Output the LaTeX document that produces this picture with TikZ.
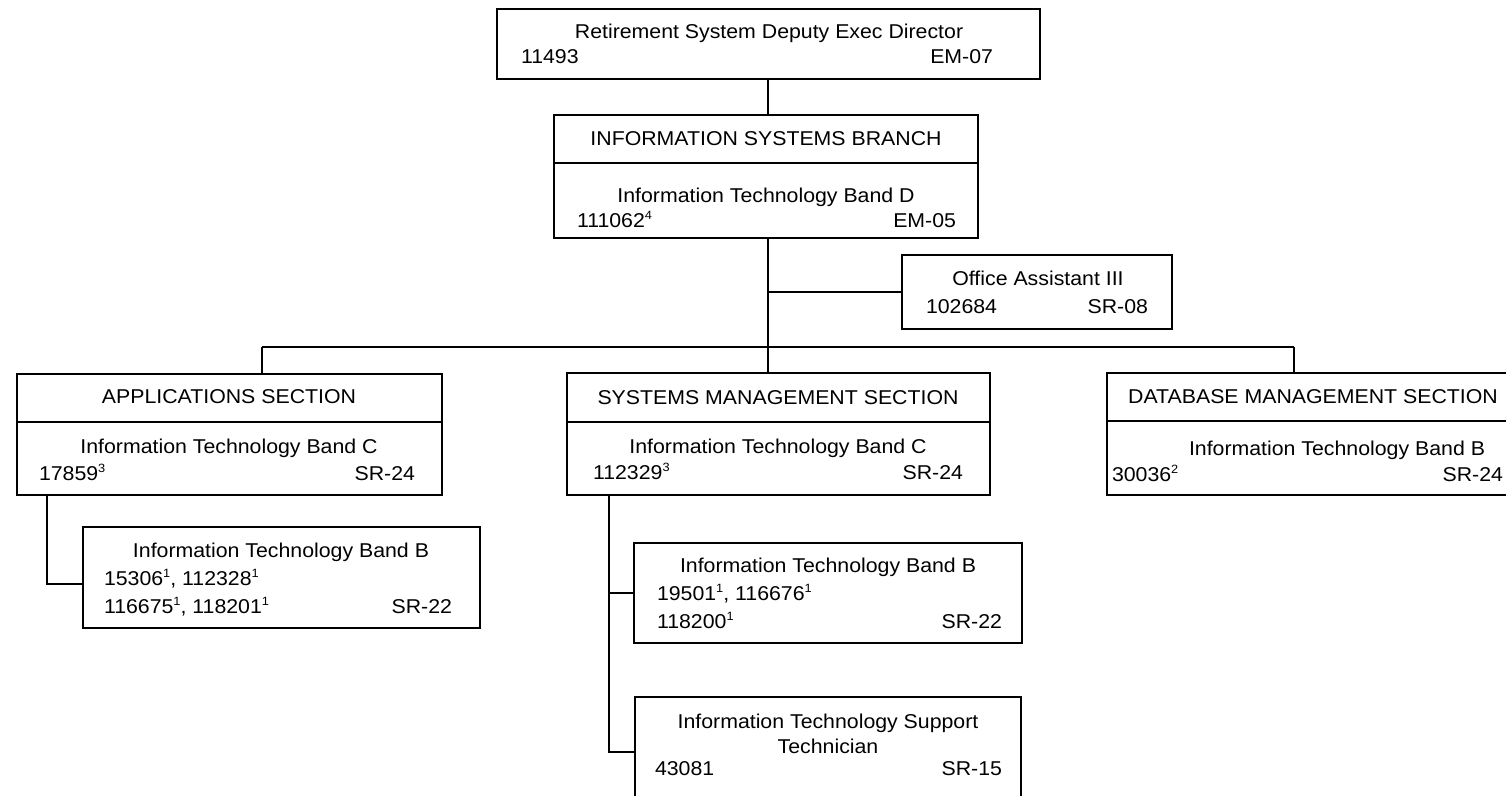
\documentclass[tikz,border=0pt]{standalone}
\usepackage{fontspec}
\setmainfont{Liberation Sans}[FakeStretch=1.065]
\usetikzlibrary{calc}
\newcommand\supn[1]{\raisebox{0.72ex}{\fontsize{12}{12}\selectfont #1}}
\begin{document}
\begin{tikzpicture}[x=1pt,y=-1pt,
  box/.style={draw=black, line width=1.8pt, rectangle, inner sep=0pt, outer sep=0pt},
  txt/.style={inner sep=0pt, outer sep=0pt, font=\fontsize{20}{25}\selectfont, text=black},
  conn/.style={draw=black, line width=1.8pt, line join=miter}]
\useasboundingbox (0,0) rectangle (1506,795);
\fill[white] (0,0) rectangle (1506,795);

% boxes
\node[box, minimum width=543pt, minimum height=70pt] (top) at (768.5,44) {};
\node[box, minimum width=424pt, minimum height=123pt] (branch) at (766,176.5) {};
\node[box, minimum width=270pt, minimum height=74pt] (office) at (1037,292) {};
\node[box, minimum width=425pt, minimum height=121pt] (app) at (229.5,434.5) {};
\node[box, minimum width=423pt, minimum height=122pt] (sys) at (778.5,434) {};
\node[box, minimum width=412pt, minimum height=122pt] (db) at (1313,434) {};
\node[box, minimum width=397pt, minimum height=101pt] (asub) at (281.5,577.5) {};
\node[box, minimum width=388pt, minimum height=100pt] (ssub1) at (828,593) {};
\node[box, minimum width=386pt, minimum height=110pt] (ssub2) at (828,752) {};

% dividers
\draw[conn] (branch.west |- 0,163) -- (branch.east |- 0,163);
\draw[conn] (app.west |- 0,422) -- (app.east |- 0,422);
\draw[conn] (sys.west |- 0,422) -- (sys.east |- 0,422);
\draw[conn] (db.west |- 0,421) -- (db.east |- 0,421);

% texts
\node[txt, anchor=base] (topT) at (769,38) {Retirement System Deputy Exec Director};
\node[txt, anchor=base west] (topL) at (521,63) {11493};
\node[txt, anchor=base east] (topR) at (993,63) {EM-07};

\node[txt, anchor=base] (brT) at (766,145) {INFORMATION SYSTEMS BRANCH};
\node[txt, anchor=base] (brS) at (766,202) {Information Technology Band D};
\node[txt, anchor=base west] (brL) at (577,227) {111062\supn{4}};
\node[txt, anchor=base east] (brR) at (956,227) {EM-05};

\node[txt, anchor=base] (ofT) at (1038,285) {Office Assistant III};
\node[txt, anchor=base west] (ofL) at (926,313) {102684};
\node[txt, anchor=base east] (ofR) at (1148,313) {SR-08};

\node[txt, anchor=base] (apT) at (229,403) {APPLICATIONS SECTION};
\node[txt, anchor=base] (apS) at (229,453) {Information Technology Band C};
\node[txt, anchor=base west] (apL) at (39,480) {17859\supn{3}};
\node[txt, anchor=base east] (apR) at (415,480) {SR-24};

\node[txt, anchor=base] (syT) at (778,404) {SYSTEMS MANAGEMENT SECTION};
\node[txt, anchor=base] (syS) at (778,453) {Information Technology Band C};
\node[txt, anchor=base west] (syL) at (593,479) {112329\supn{3}};
\node[txt, anchor=base east] (syR) at (963,479) {SR-24};

\node[txt, anchor=base] (dbT) at (1313,403) {DATABASE MANAGEMENT SECTION};
\node[txt, anchor=base] (dbS) at (1337,455) {Information Technology Band B};
\node[txt, anchor=base west] (dbL) at (1112,481) {30036\supn{2}};
\node[txt, anchor=base east] (dbR) at (1503,481) {SR-24};

\node[txt, anchor=base] (asT) at (281,557) {Information Technology Band B};
\node[txt, anchor=base west] (asL1) at (104,585) {15306\supn{1}, 112328\supn{1}};
\node[txt, anchor=base west] (asL2) at (104,613) {116675\supn{1}, 118201\supn{1}};
\node[txt, anchor=base east] (asR) at (452,613) {SR-22};

\node[txt, anchor=base] (s1T) at (828,572) {Information Technology Band B};
\node[txt, anchor=base west] (s1L1) at (657,600) {19501\supn{1}, 116676\supn{1}};
\node[txt, anchor=base west] (s1L2) at (657,628) {118200\supn{1}};
\node[txt, anchor=base east] (s1R) at (1002,628) {SR-22};

\node[txt, anchor=base] (s2T) at (828,728) {Information Technology Support};
\node[txt, anchor=base] (s2T2) at (828,753) {Technician};
\node[txt, anchor=base west] (s2L) at (655,775) {43081};
\node[txt, anchor=base east] (s2R) at (1002,775) {SR-15};

% junction coordinates
\coordinate (bL) at (262,347);
\coordinate (bM) at (768,347);
\coordinate (bR) at (1294,347);
\coordinate (aX) at (47,584);
\coordinate (sX) at (609,593);

% connectors
\draw[conn] (top.south -| bM) -- (branch.north -| bM);
\draw[conn] (branch.south -| bM) -- (bM);
\draw[conn] (office.west) -- (office.west -| bM);
\draw[conn] (bL) -- (bR);
\draw[conn] (bL) -- (app.north -| bL);
\draw[conn] (bM) -- (sys.north -| bM);
\draw[conn] (bR) -- (db.north -| bR);
\draw[conn] (app.south -| aX) -- (aX) -- (aX -| asub.west);
\draw[conn] (sys.south -| sX) -- (sX |- ssub2.west) -- (ssub2.west);
\draw[conn] (sX |- ssub1.west) -- (ssub1.west);
\end{tikzpicture}
\end{document}
